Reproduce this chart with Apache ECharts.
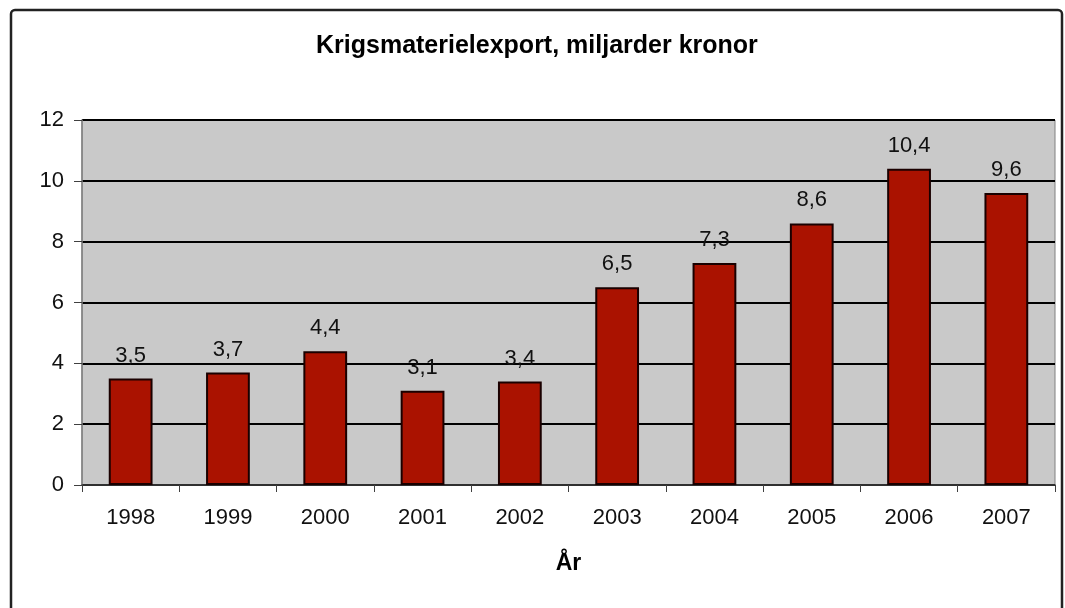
<!DOCTYPE html>
<html>
<head>
<meta charset="utf-8">
<script src="https://cdn.jsdelivr.net/npm/echarts@6/dist/echarts.min.js"></script>
<style>
  html, body { margin: 0; padding: 0; background: #fff; }
  #chart { width: 1065px; height: 608px; }
</style>
</head>
<body>
<div id="chart"></div>
<script>
const years = ['1998', '1999', '2000', '2001', '2002', '2003', '2004', '2005', '2006', '2007'];
const exportValues = [3.5, 3.7, 4.4, 3.1, 3.4, 6.5, 7.3, 8.6, 10.4, 9.6];
const yTicks = [0, 2, 4, 6, 8, 10, 12];

const chart = echarts.init(document.getElementById('chart'));
const font = 'Liberation Sans, Arial, sans-serif';

chart.setOption({
  animation: false,
  title: {
    text: 'Krigsmaterielexport, miljarder kronor',
    left: 311,
    top: 29,
    textStyle: { fontFamily: font, fontSize: 25, fontWeight: 'bold', color: '#000' },
  },
  graphic: [
    {
      type: 'rect',
      shape: { x: 11, y: 10, width: 1051, height: 640, r: 4 },
      style: { fill: 'none', stroke: '#222', lineWidth: 2.5 },
      silent: true,
    },
  ],
  grid: {
    left: 82,
    right: 10,
    top: 120,
    bottom: 123,
    show: true,
    backgroundColor: '#c9c9c9',
    borderColor: '#808080',
    borderWidth: 1,
  },
  xAxis: {
    type: 'category',
    data: years,
    name: 'År',
    nameLocation: 'middle',
    nameGap: 67,
    nameTextStyle: { fontFamily: font, fontSize: 23, fontWeight: 'bold', color: '#000' },
    axisLine: { lineStyle: { color: '#404040', width: 1.5 } },
    axisTick: { show: true, length: 7, lineStyle: { color: '#404040' } },
    axisLabel: { fontFamily: font, fontSize: 22, color: '#111', margin: 22 },
  },
  yAxis: {
    type: 'value',
    min: yTicks[0],
    max: yTicks[yTicks.length - 1],
    interval: 2,
    axisLine: { show: true, lineStyle: { color: '#808080', width: 1.5 } },
    axisTick: { show: true, length: 8, lineStyle: { color: '#404040' } },
    axisLabel: { fontFamily: font, fontSize: 22, color: '#111', margin: 18 },
    splitLine: { lineStyle: { color: '#000', width: 2 } },
  },
  series: [
    {
      type: 'bar',
      data: exportValues,
      barWidth: '45%',
      itemStyle: { color: '#aa1200', borderColor: '#1a0000', borderWidth: 2 },
      label: {
        show: true,
        position: 'top',
        distance: 12,
        fontFamily: font,
        fontSize: 22,
        color: '#111',
        formatter: (p) => String(p.value).replace('.', ','),
      },
    },
  ],
});
</script>
</body>
</html>
